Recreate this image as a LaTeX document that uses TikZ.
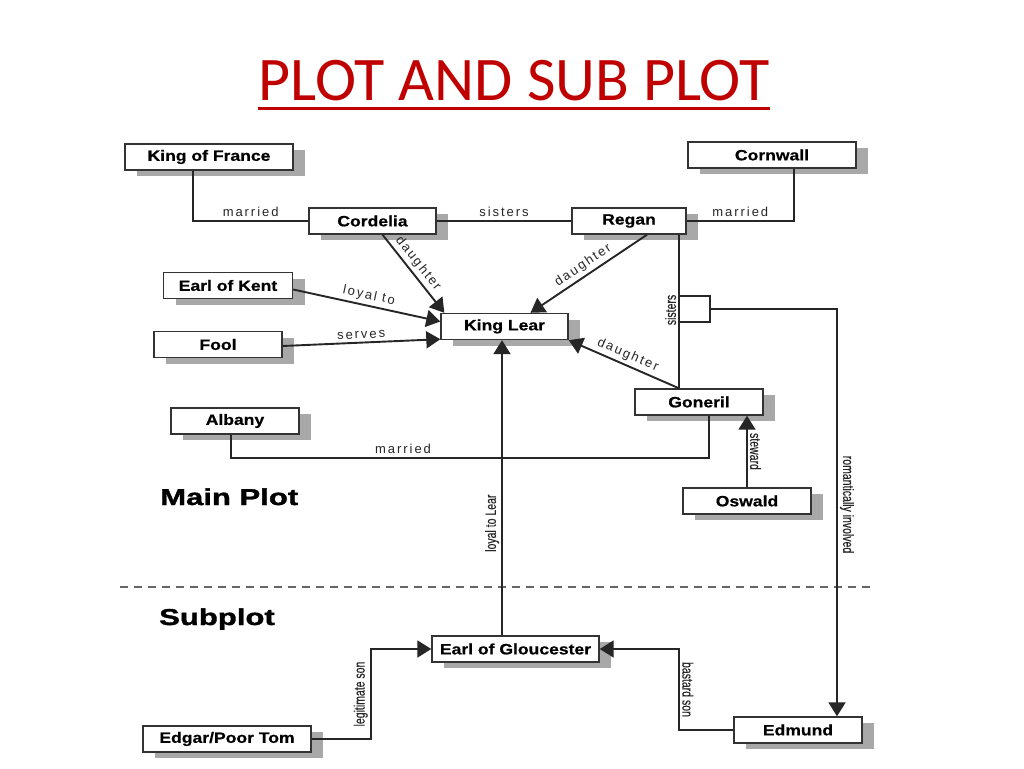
\documentclass[tikz,border=0pt]{standalone}
\usepackage{fontspec}
\setmainfont{Liberation Sans}
\newfontfamily\titlefont{Carlito}
\newfontfamily\boxfont[FakeStretch=1.17,FakeBold=0.6]{Liberation Sans}
\newfontfamily\headfont[FakeStretch=1.35,FakeBold=1.5]{Liberation Sans}
\newfontfamily\lblfont[LetterSpace=15]{Liberation Sans}
\newfontfamily\narrowfont[FakeStretch=0.7,FakeBold=0.3]{Liberation Sans}
\usetikzlibrary{arrows.meta,shadows,calc}
\definecolor{titlered}{HTML}{C00000}
\definecolor{boxline}{HTML}{333333}
\definecolor{shade}{HTML}{A8A8A8}
\tikzset{
  person/.style={draw=boxline, line width=1.4pt, fill=white, minimum width=128pt,
    minimum height=26pt, inner sep=0pt, font=\boxfont\bfseries\fontsize{15}{18}\selectfont,
    drop shadow={shadow xshift=12pt, shadow yshift=-6pt, fill=shade, opacity=1}},
  wideperson/.style={person, minimum width=168pt},
  link/.style={draw=black!85, line width=1.9pt},
  arr/.style={link, -{Triangle[length=14pt,width=17pt]}},
  lbl/.style={font=\lblfont\fontsize{13}{15}\selectfont, text=black!85, inner sep=3pt},
  vlbl/.style={font=\narrowfont\fontsize{15}{17}\selectfont, text=black!85, inner sep=2pt, anchor=south},
  head/.style={font=\headfont\bfseries\fontsize{23}{26}\selectfont, anchor=base west, inner sep=0pt}
}
\begin{document}
\begin{tikzpicture}[x=1pt,y=-1pt]
  \useasboundingbox[fill=white] (0,0) rectangle (1024,768);
  \node[anchor=base, inner sep=0pt, font=\titlefont\fontsize{62}{70}\selectfont, text=titlered] (title) at (514,100) {PLOT AND SUB PLOT};
  \draw[titlered, line width=3pt] ([yshift=-8pt]title.base west) -- ([yshift=-8pt]title.base east);

  \node[wideperson] (france) at (209,157) {King of France};
  \node[person, minimum width=127pt] (cordelia) at (372.5,221) {Cordelia};
  \node[person, minimum width=114pt] (regan) at (629,221) {Regan};
  \node[wideperson] (cornwall) at (772,155) {Cornwall};
  \node[person, minimum width=129pt] (kent) at (228,285.5) {Earl of Kent};
  \node[person] (fool) at (218,344.5) {Fool};
  \node[person, minimum width=127pt] (lear) at (504.5,326.5) {King Lear};
  \node[person] (goneril) at (699,402) {Goneril};
  \node[person] (oswald) at (747,501) {Oswald};
  \node[person] (albany) at (235,421) {Albany};
  \node[wideperson, minimum width=167pt] (gloucester) at (515.5,649) {Earl of Gloucester};
  \node[wideperson] (edgar) at (227,739) {Edgar/Poor Tom};
  \node[person] (edmund) at (798,730) {Edmund};

  \node[head] (mainplot) at (160,505) {Main Plot};
  \node[head] (subplot) at (159,625) {Subplot};
  \draw[black!60, line width=1.3pt, dash pattern=on 8pt off 6pt] (120,587) -- (872,587);

  \draw[link] ([xshift=-16pt]france.south) |- (cordelia.west) node[lbl, pos=0.75, above] {married};
  \draw[link] (cordelia.east) -- (regan.west) node[lbl, midway, above] {sisters};
  \draw[link] (regan.east) -| ([xshift=22pt]cornwall.south) node[lbl, pos=0.25, above] {married};
  \draw[arr] ([xshift=10pt]cordelia.south) -- ([xshift=4pt]lear.north west) node[lbl, pos=0.45, above, sloped] {daughter};
  \draw[arr] ([xshift=18pt]regan.south) -- ([xshift=26pt]lear.north) node[lbl, midway, above, sloped] {daughter};
  \draw[arr] ([yshift=-4pt]kent.east) -- ([yshift=5pt]lear.west) node[lbl, midway, above, sloped] {loyal to};
  \draw[arr] ([yshift=-1.5pt]fool.east) -- ([yshift=1pt]lear.south west) node[lbl, midway, above, sloped] {serves};
  \coordinate (sis) at ([xshift=-20pt]goneril.north);
  \draw[link] (regan.south -| sis) -- (sis) node[vlbl, rotate=90, pos=0.49] {sisters};
  \draw[arr] (sis) -- (lear.south east) node[lbl, midway, above, sloped] {daughter};
  \draw[link] (679,296) rectangle (710,322);
  \coordinate (romance) at (710,309);
  \draw[arr] (romance) -| ([xshift=39pt]edmund.north) node[vlbl, rotate=-90, pos=0.74] {romantically involved};
  \draw[link] ([xshift=-4pt]albany.south) -- ++(0,23) -| ([xshift=10pt]goneril.south) node[lbl, pos=0.18, above] {married};
  \draw[arr] (oswald.north) -- (oswald.north |- goneril.south) node[vlbl, rotate=-90, midway] {steward};
  \draw[arr] ([xshift=-13.5pt]gloucester.north) -- ([xshift=-2.5pt]lear.south) node[vlbl, rotate=90, pos=0.38] {loyal to Lear};
  \draw[arr] (edgar.east) -- ++(59,0) |- (gloucester.west) node[vlbl, rotate=90, pos=0.25] {legitimate son};
  \draw[arr] (edmund.west) -- ++(-54,0) |- (gloucester.east) node[vlbl, rotate=-90, pos=0.25] {bastard son};
\end{tikzpicture}
\end{document}
